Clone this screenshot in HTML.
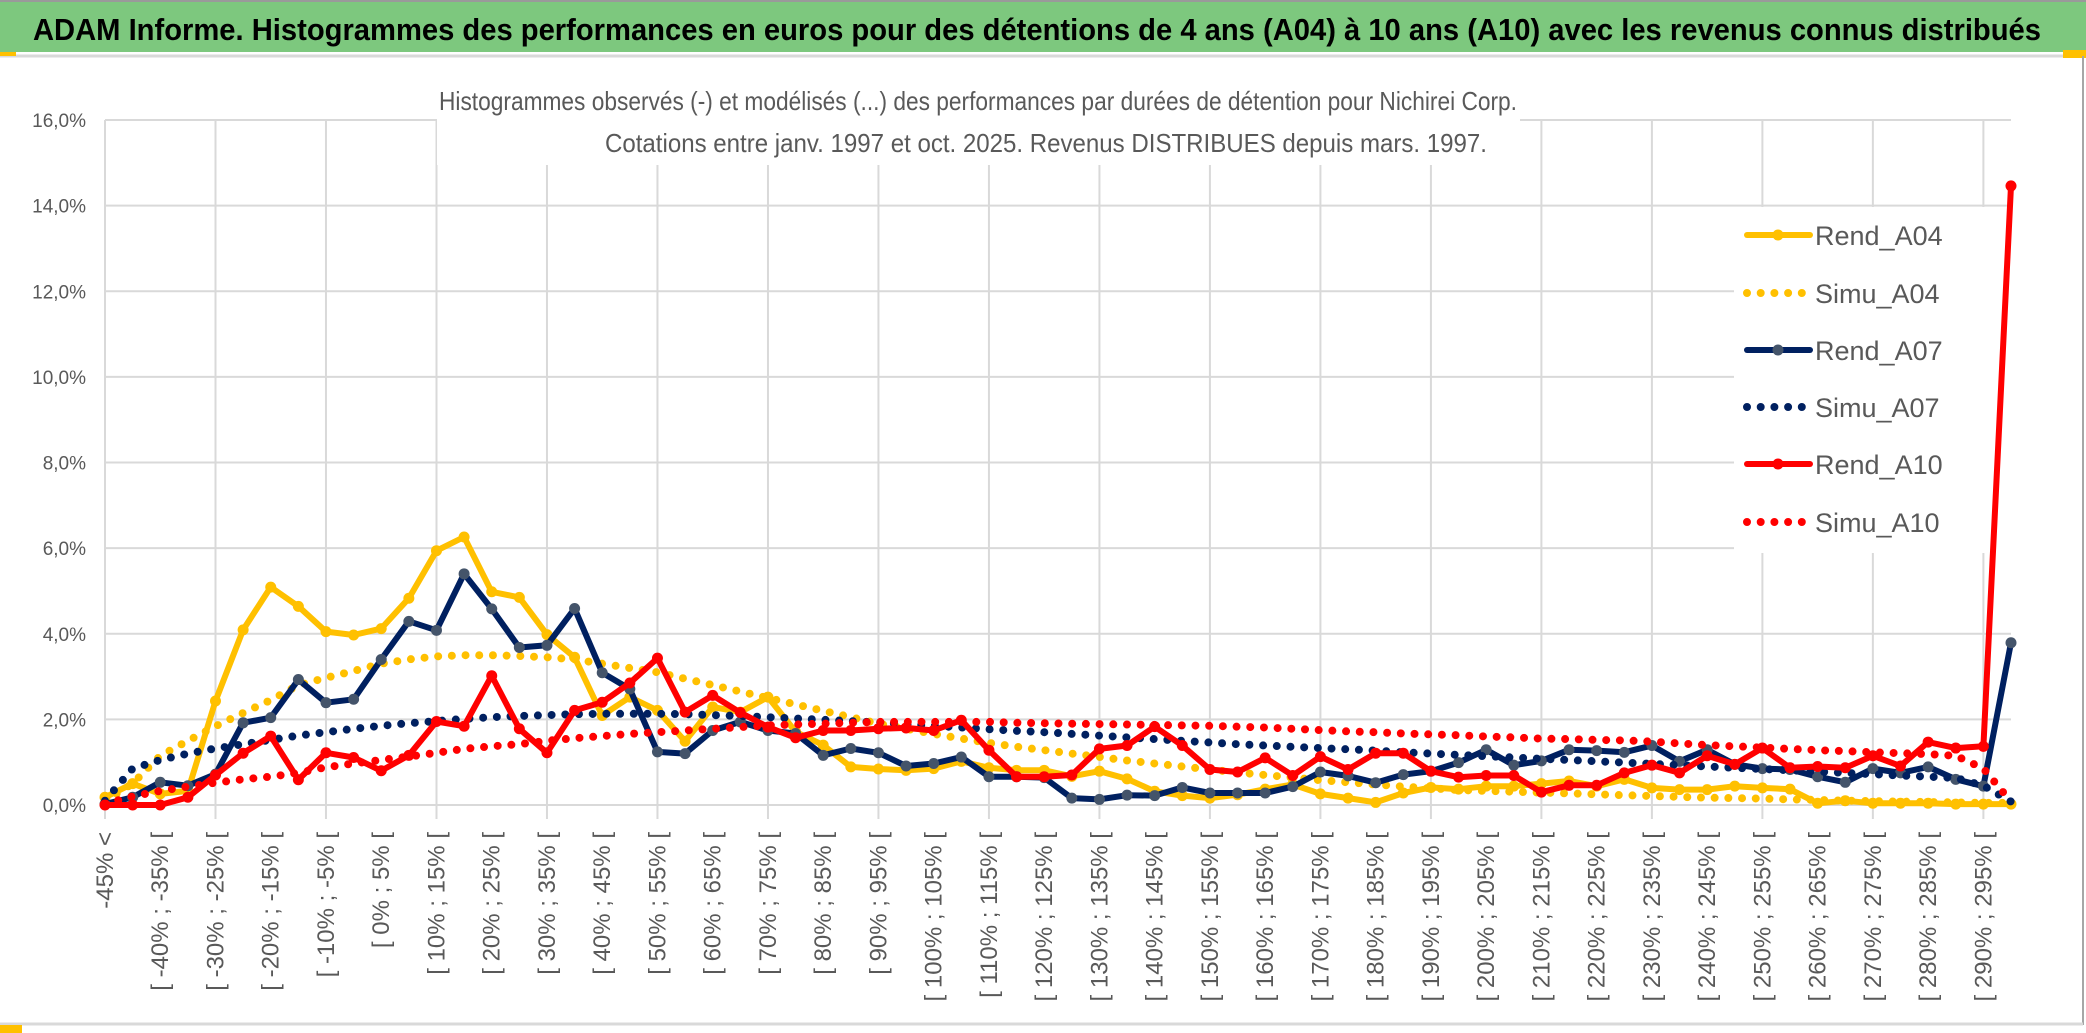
<!DOCTYPE html>
<html><head><meta charset="utf-8"><style>
html,body{margin:0;padding:0;background:#fff;}
svg{display:block;font-family:"Liberation Sans",sans-serif;}
</style></head><body>
<svg id="chart" width="2086" height="1033" viewBox="0 0 2086 1033" xmlns="http://www.w3.org/2000/svg">
<rect x="0" y="0" width="2086" height="1033" fill="#fff"/>
<rect x="0" y="0" width="2086" height="52" fill="#7DC87E"/>
<line x1="0" y1="1" x2="2086" y2="1" stroke="#9a9a9a" stroke-width="2"/>
<line x1="0" y1="56" x2="2086" y2="56" stroke="#d9d9d9" stroke-width="3"/>
<rect x="0" y="52" width="16" height="4" fill="#FFC000"/>
<rect x="2063" y="50" width="23" height="8" fill="#FFC000"/>
<line x1="2083" y1="56" x2="2083" y2="1025" stroke="#a6a6a6" stroke-width="2"/>
<line x1="0" y1="1024" x2="2083" y2="1024" stroke="#d9d9d9" stroke-width="3"/>
<rect x="0" y="1025" width="22" height="8" fill="#FFC000"/>
<text x="33" y="40" font-size="31" font-weight="bold" fill="#000" textLength="2008" lengthAdjust="spacingAndGlyphs">ADAM Informe. Histogrammes des performances en euros pour des détentions de 4 ans (A04) à 10 ans (A10) avec les revenus connus distribués</text>
<g id="grid"></g>
<rect x="437" y="80" width="1083" height="85" fill="#fff"/>
<text x="439" y="110" font-size="26" fill="#595959" textLength="1078" lengthAdjust="spacingAndGlyphs">Histogrammes observés (-) et modélisés (...) des performances par durées de détention pour Nichirei Corp.</text>
<text x="605" y="152" font-size="26" fill="#595959" textLength="882" lengthAdjust="spacingAndGlyphs">Cotations entre janv. 1997 et oct. 2025. Revenus DISTRIBUES depuis mars. 1997.</text>
<g id="yaxis"></g>
<g id="xaxis"></g>
<rect x="1734" y="207" width="277" height="346" fill="#fff"/>
<g id="series"></g>
<g id="legend"></g>
</svg>
<script>
const categories = ["-45% <","[ -45% ; -40% [","[ -40% ; -35% [","[ -35% ; -30% [","[ -30% ; -25% [","[ -25% ; -20% [","[ -20% ; -15% [","[ -15% ; -10% [","[ -10% ; -5% [","[ -5% ; 0% [","[ 0% ; 5% [","[ 5% ; 10% [","[ 10% ; 15% [","[ 15% ; 20% [","[ 20% ; 25% [","[ 25% ; 30% [","[ 30% ; 35% [","[ 35% ; 40% [","[ 40% ; 45% [","[ 45% ; 50% [","[ 50% ; 55% [","[ 55% ; 60% [","[ 60% ; 65% [","[ 65% ; 70% [","[ 70% ; 75% [","[ 75% ; 80% [","[ 80% ; 85% [","[ 85% ; 90% [","[ 90% ; 95% [","[ 95% ; 100% [","[ 100% ; 105% [","[ 105% ; 110% [","[ 110% ; 115% [","[ 115% ; 120% [","[ 120% ; 125% [","[ 125% ; 130% [","[ 130% ; 135% [","[ 135% ; 140% [","[ 140% ; 145% [","[ 145% ; 150% [","[ 150% ; 155% [","[ 155% ; 160% [","[ 160% ; 165% [","[ 165% ; 170% [","[ 170% ; 175% [","[ 175% ; 180% [","[ 180% ; 185% [","[ 185% ; 190% [","[ 190% ; 195% [","[ 195% ; 200% [","[ 200% ; 205% [","[ 205% ; 210% [","[ 210% ; 215% [","[ 215% ; 220% [","[ 220% ; 225% [","[ 225% ; 230% [","[ 230% ; 235% [","[ 235% ; 240% [","[ 240% ; 245% [","[ 245% ; 250% [","[ 250% ; 255% [","[ 255% ; 260% [","[ 260% ; 265% [","[ 265% ; 270% [","[ 270% ; 275% [","[ 275% ; 280% [","[ 280% ; 285% [","[ 285% ; 290% [","[ 290% ; 295% [","[ 295% ; 300% ["];
const rendA04 = [0.18,0.5,0.26,0.33,2.43,4.09,5.09,4.64,4.05,3.97,4.12,4.83,5.94,6.26,4.98,4.85,3.98,3.45,2.09,2.52,2.21,1.49,2.29,2.17,2.52,1.71,1.4,0.89,0.84,0.81,0.85,1.02,0.87,0.81,0.81,0.67,0.79,0.61,0.32,0.22,0.16,0.24,0.37,0.48,0.26,0.16,0.06,0.28,0.41,0.37,0.44,0.44,0.5,0.56,0.44,0.6,0.4,0.36,0.36,0.44,0.4,0.37,0.04,0.1,0.04,0.04,0.04,0.02,0.02,0.02];
const simuA04 = [0.1,0.5,1.15,1.5,1.84,2.15,2.45,2.8,2.97,3.13,3.3,3.4,3.47,3.5,3.5,3.48,3.45,3.4,3.3,3.2,3.1,2.95,2.8,2.65,2.5,2.35,2.2,2.05,1.9,1.78,1.66,1.55,1.45,1.36,1.28,1.2,1.12,1.04,0.97,0.9,0.83,0.76,0.7,0.64,0.58,0.53,0.48,0.43,0.39,0.35,0.33,0.31,0.29,0.27,0.25,0.23,0.21,0.19,0.17,0.16,0.15,0.13,0.12,0.1,0.09,0.08,0.07,0.06,0.05,0.05];
const rendA07 = [0.02,0.18,0.53,0.45,0.72,1.92,2.04,2.93,2.39,2.47,3.4,4.29,4.08,5.4,4.58,3.68,3.73,4.59,3.09,2.71,1.24,1.2,1.74,1.94,1.74,1.67,1.16,1.32,1.22,0.91,0.97,1.12,0.66,0.66,0.64,0.16,0.13,0.23,0.22,0.41,0.28,0.28,0.28,0.43,0.77,0.68,0.52,0.71,0.79,0.99,1.29,0.93,1.03,1.29,1.27,1.23,1.39,1.02,1.29,0.95,0.85,0.83,0.66,0.53,0.85,0.75,0.89,0.6,0.44,3.79];
const simuA07 = [0.1,0.85,1.05,1.2,1.32,1.42,1.52,1.62,1.7,1.78,1.85,1.91,1.96,2.01,2.05,2.08,2.1,2.12,2.13,2.13,2.13,2.12,2.1,2.08,2.05,2.02,1.99,1.96,1.93,1.89,1.85,1.81,1.77,1.73,1.7,1.66,1.62,1.58,1.54,1.5,1.46,1.42,1.39,1.36,1.33,1.3,1.27,1.23,1.2,1.17,1.14,1.11,1.08,1.05,1.02,0.99,0.96,0.93,0.9,0.87,0.84,0.81,0.78,0.75,0.72,0.69,0.66,0.63,0.45,0.08];
const rendA10 = [0,0,0,0.18,0.7,1.21,1.61,0.59,1.22,1.11,0.8,1.16,1.95,1.84,3.02,1.78,1.22,2.21,2.4,2.85,3.43,2.17,2.56,2.16,1.82,1.57,1.74,1.74,1.78,1.8,1.74,1.98,1.28,0.66,0.66,0.7,1.31,1.39,1.83,1.39,0.83,0.77,1.1,0.69,1.13,0.83,1.21,1.21,0.79,0.65,0.69,0.69,0.3,0.46,0.46,0.75,0.93,0.75,1.15,0.95,1.33,0.87,0.9,0.87,1.15,0.91,1.47,1.33,1.37,14.46];
const simuA10 = [0.03,0.2,0.33,0.43,0.52,0.6,0.66,0.75,0.88,0.97,1.05,1.13,1.22,1.31,1.37,1.42,1.5,1.56,1.61,1.66,1.7,1.74,1.78,1.82,1.86,1.88,1.9,1.92,1.94,1.94,1.94,1.94,1.94,1.92,1.91,1.9,1.89,1.88,1.87,1.86,1.85,1.83,1.81,1.78,1.75,1.72,1.7,1.67,1.65,1.63,1.6,1.58,1.55,1.54,1.52,1.51,1.48,1.44,1.4,1.37,1.34,1.31,1.28,1.26,1.23,1.21,1.19,1.15,0.85,0.08];
const yTicks = [0,2,4,6,8,10,12,14,16];
const yTickLabels = ["0,0%","2,0%","4,0%","6,0%","8,0%","10,0%","12,0%","14,0%","16,0%"];
const seriesNames = ["Rend_A04","Simu_A04","Rend_A07","Simu_A07","Rend_A10","Simu_A10"];

const NS = "http://www.w3.org/2000/svg";
const X0 = 105, DX = (2011 - 105) / 69, Y0 = 805, YTOP = 120, YMAX = 16;
function xPos(i){ return X0 + DX * i; }
function yPos(v){ return Y0 - (v / YMAX) * (Y0 - YTOP); }
function mk(tag, attrs, parent){ const e = document.createElementNS(NS, tag); for (const k in attrs) e.setAttribute(k, attrs[k]); parent.appendChild(e); return e; }

const grid = document.getElementById('grid');
yTicks.forEach(function(t, k){
  const l = mk('line', {x1: X0, x2: 2011, y1: yPos(t), y2: yPos(t), stroke: '#d9d9d9', 'stroke-width': 2}, grid);
  
  
});
for (let i = 0; i < categories.length; i += 4) {
  const l = mk('line', {x1: xPos(i), x2: xPos(i), y1: YTOP, y2: Y0 + 14, stroke: '#d9d9d9', 'stroke-width': 2}, grid);
  
  
}
const yaxis = document.getElementById('yaxis');
yTicks.forEach(function(t, k){
  const tx = mk('text', {x: 86, y: yPos(t) + 7, 'font-size': 19, fill: '#595959', 'text-anchor': 'end'}, yaxis);
  tx.textContent = yTickLabels[k];
  
  
});
const xaxis = document.getElementById('xaxis');
categories.forEach(function(c, i){
  if (i % 2 !== 0) return;
  const x = xPos(i) + 8;
  const tx = mk('text', {x: x, y: 832, 'font-size': 24, fill: '#595959', 'text-anchor': 'end', transform: 'rotate(-90 ' + x + ' 832)'}, xaxis);
  tx.textContent = c;
  
  
});

const series = document.getElementById('series');
function pts(arr){ return arr.map(function(v, i){ return xPos(i).toFixed(1) + ',' + yPos(v).toFixed(1); }).join(' '); }
function drawRend(arr, color, mcolor, name){
  const g = mk('g', {}, series);
  
  
  const pl = mk('polyline', {points: pts(arr), fill: 'none', stroke: color, 'stroke-width': 6, 'stroke-linejoin': 'round'}, g);
  
  
  arr.forEach(function(v, i){
    const c = mk('circle', {cx: xPos(i), cy: yPos(v), r: 5.5, fill: mcolor}, g);
    
    
  });
}
function drawSimu(arr, color, name){
  const pl = mk('polyline', {points: pts(arr), fill: 'none', stroke: color, 'stroke-width': 8, 'stroke-linecap': 'round', 'stroke-dasharray': '0 13.7'}, series);
  
  
}
drawRend(rendA04, '#FFC000', '#FFC000', 'rend-a04');
drawSimu(simuA04, '#FFC000', 'simu-a04');
drawRend(rendA07, '#002060', '#44546A', 'rend-a07');
drawSimu(simuA07, '#002060', 'simu-a07');
drawRend(rendA10, '#FF0000', '#FF0000', 'rend-a10');
drawSimu(simuA10, '#FF0000', 'simu-a10');

const legend = document.getElementById('legend');
const legColors = ['#FFC000','#FFC000','#002060','#002060','#FF0000','#FF0000'];
const legMarker = ['#FFC000',null,'#44546A',null,'#FF0000',null];
const legY = [235, 293, 350, 407, 464, 522];
seriesNames.forEach(function(n, k){
  const g = mk('g', {}, legend);
  
  
  const y = legY[k];
  if (legMarker[k]) {
    mk('line', {x1: 1747, x2: 1810, y1: y, y2: y, stroke: legColors[k], 'stroke-width': 6, 'stroke-linecap': 'round'}, g);
    mk('circle', {cx: 1778, cy: y, r: 5.5, fill: legMarker[k]}, g);
  } else {
    mk('line', {x1: 1747, x2: 1808, y1: y, y2: y, stroke: legColors[k], 'stroke-width': 8, 'stroke-linecap': 'round', 'stroke-dasharray': '0 13.7'}, g);
  }
  const t = mk('text', {x: 1815, y: y + 10, 'font-size': 27, fill: '#595959'}, g);
  t.textContent = n;
});
</script>
</body></html>
